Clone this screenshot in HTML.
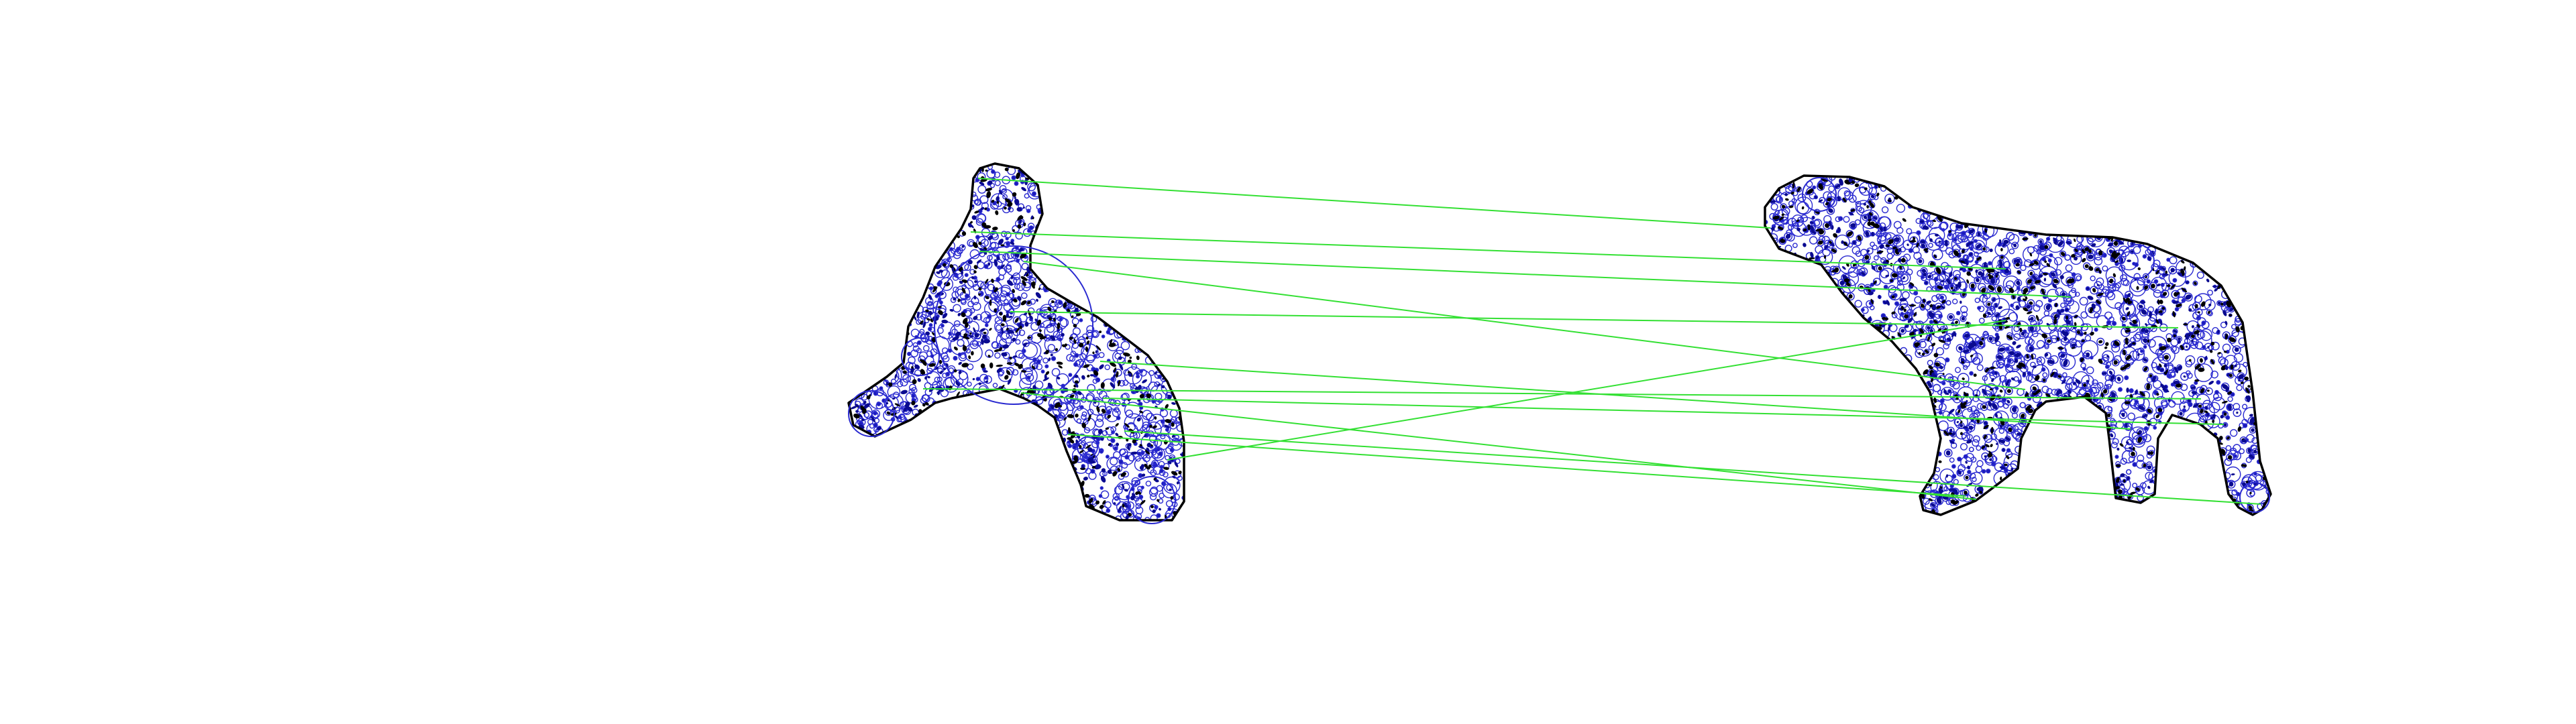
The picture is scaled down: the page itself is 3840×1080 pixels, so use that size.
<!DOCTYPE html>
<html><head><meta charset="utf-8"><style>html,body{margin:0;padding:0;background:#fff}svg{display:block}</style></head>
<body>
<svg id="fig" width="3840" height="1080" viewBox="0 0 3840 1080" xmlns="http://www.w3.org/2000/svg">
<defs>
<clipPath id="clipL"><polygon id="polyLc"/></clipPath>
<clipPath id="clipR"><polygon id="polyRc"/></clipPath>
</defs>
<rect width="3840" height="1080" fill="#fff"/>
<g id="texL" clip-path="url(#clipL)"></g>
<g id="texR" clip-path="url(#clipR)"></g>
<polygon id="outL" fill="none" stroke="#000" stroke-width="3.5" stroke-linejoin="round"/>
<polygon id="outR" fill="none" stroke="#000" stroke-width="3.5" stroke-linejoin="round"/>
<g id="big"></g>
<g id="matches"></g>
</svg>
<script>
const leftOutline=[[1483,244],[1519,251],[1547,276],[1554,319],[1547,337],[1536,366],[1536,401],[1561,430],[1604,455],[1636,473],[1669,498],[1711,530],[1740,569],[1758,609],[1765,659],[1765,748],[1747,776],[1669,776],[1619,755],[1611,723],[1590,673],[1572,623],[1547,605],[1526,594],[1490,580],[1454,587],[1419,594],[1394,601],[1358,626],[1304,651],[1272,634],[1265,601],[1290,584],[1322,562],[1347,541],[1354,487],[1376,444],[1394,398],[1411,373],[1433,341],[1447,312],[1451,266],[1461,251]];
const rightOutline=[[2689,262],[2757,264],[2809,278],[2851,309],[2924,333],[3050,350],[3149,354],[3201,364],[3269,392],[3311,426],[3343,481],[3358,585],[3369,688],[3385,737],[3372,760],[3358,768],[3337,757],[3322,737],[3306,654],[3280,633],[3238,619],[3217,654],[3212,737],[3191,750],[3154,743],[3144,654],[3139,616],[3107,592],[3050,599],[3034,612],[3013,654],[3008,699],[2977,723],[2945,747],[2893,768],[2867,761],[2862,740],[2883,706],[2893,654],[2877,585],[2856,550],[2820,509],[2778,474],[2746,437],[2715,395],[2652,371],[2631,337],[2631,309],[2652,281]];
const matchFrom=[[1458,266],[1447,346],[1460,375],[1526,390],[1506,465],[1640,539],[1376,580],[1644,594],[1522,586],[1676,643],[1592,648],[1740,686]];
const matchTo=[[2639,340],[2990,401],[3087,443],[3019,581],[3247,489],[3176,640],[3281,595],[3315,633],[2946,745],[3370,752],[2930,740],[2990,478]];
const NS='http://www.w3.org/2000/svg';
const ptsStr=a=>a.map(p=>p.join(',')).join(' ');
document.getElementById('polyLc').setAttribute('points',ptsStr(leftOutline));
document.getElementById('polyRc').setAttribute('points',ptsStr(rightOutline));
document.getElementById('outL').setAttribute('points',ptsStr(leftOutline));
document.getElementById('outR').setAttribute('points',ptsStr(rightOutline));
let seed=12345;
function rnd(){seed=(seed*1103515245+12345)%2147483648;return seed/2147483648;}
function inside(p,poly){let c=false;for(let i=0,j=poly.length-1;i<poly.length;j=i++){const a=poly[i],b=poly[j];if(((a[1]>p[1])!==(b[1]>p[1]))&&(p[0]<(b[0]-a[0])*(p[1]-a[1])/(b[1]-a[1])+a[0]))c=!c;}return c;}
function texture(gid,poly,nC,nB){
  const g=document.getElementById(gid);
  const xs=poly.map(p=>p[0]),ys=poly.map(p=>p[1]);
  const x0=Math.min(...xs),x1=Math.max(...xs),y0=Math.min(...ys),y1=Math.max(...ys);
  let made=0,tries=0;
  while(made<nC&&tries<nC*6){tries++;
    const x=x0+rnd()*(x1-x0),y=y0+rnd()*(y1-y0);
    if(!inside([x,y],poly))continue;made++;
    const r=rnd()<0.15?5+rnd()*9:2+rnd()*4;
    const c=document.createElementNS(NS,'circle');
    
    
    c.setAttribute('cx',x.toFixed(1));c.setAttribute('cy',y.toFixed(1));c.setAttribute('r',r.toFixed(1));
    c.setAttribute('fill',r<3.0?'#1a1ab8':'none');c.setAttribute('stroke','#2a2ad0');c.setAttribute('stroke-width','1.4');
    g.appendChild(c);
  }
  made=0;tries=0;
  while(made<nB&&tries<nB*6){tries++;
    const x=x0+rnd()*(x1-x0),y=y0+rnd()*(y1-y0);
    if(!inside([x,y],poly))continue;made++;
    const e=document.createElementNS(NS,'ellipse');
    
    
    e.setAttribute('cx',x.toFixed(1));e.setAttribute('cy',y.toFixed(1));
    e.setAttribute('rx',(1.5+rnd()*4).toFixed(1));e.setAttribute('ry',(1.5+rnd()*2).toFixed(1));
    e.setAttribute('transform','rotate('+(rnd()*180).toFixed(0)+' '+x.toFixed(1)+' '+y.toFixed(1)+')');
    e.setAttribute('fill',rnd()<0.5?'#000':'#0a0a90');
    g.appendChild(e);
  }
}
texture('texL',leftOutline,950,520);
texture('texR',rightOutline,1800,950);
const bigCircles=[[1511,485,118],[1372,532,28],[1299,617,34],[1717,746,35],[1621,667,15],[2712,290,25],[3186,390,25],[3361,742,22]];
const bg=document.getElementById('big');
bigCircles.forEach(b=>{
  const c=document.createElementNS(NS,'circle');
  
  
  c.setAttribute('cx',b[0]);c.setAttribute('cy',b[1]);c.setAttribute('r',b[2]);
  c.setAttribute('fill','none');c.setAttribute('stroke','#2a2ad0');c.setAttribute('stroke-width','2');
  bg.appendChild(c);
});
const mg=document.getElementById('matches');
matchFrom.forEach((p,i)=>{
  const q=matchTo[i];
  const l=document.createElementNS(NS,'line');
  
  
  l.setAttribute('x1',p[0]);l.setAttribute('y1',p[1]);l.setAttribute('x2',q[0]);l.setAttribute('y2',q[1]);
  l.setAttribute('stroke','#33e033');l.setAttribute('stroke-width','2');
  mg.appendChild(l);
});
</script>
</body></html>
